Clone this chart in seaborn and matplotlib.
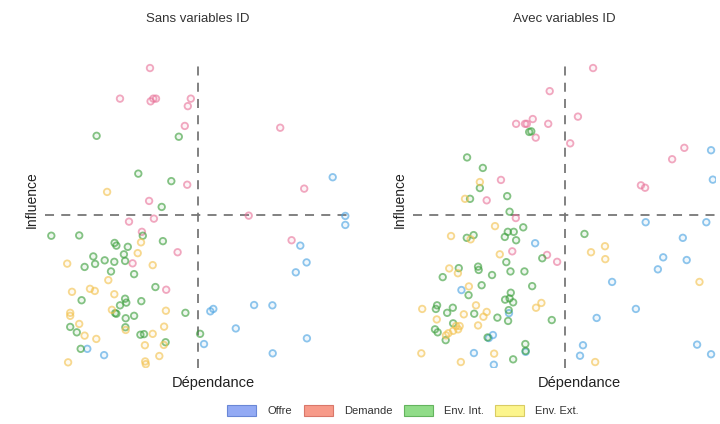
import pandas as pd
import numpy as np
import matplotlib.pyplot as plt
import seaborn as sns
from matplotlib.patches import Patch

# categories and colours
categories = ['Offre', 'Demande', 'Env. Int.', 'Env. Ext.']
point_colors = ['#4aa3e2', '#e9759b', '#3c9f3c', '#f3c24e']
legend_fill = ['#93aaf4', '#f79a89', '#90dc88', '#fcf58c']
legend_edge = ['#6a87d6', '#d9776a', '#64b45e', '#d9cc63']

# ---- Sans variables ID ----
sans_offre_x = [94.9, 99.1, 99.1, 84.1, 86.2, 82.6, 68.7, 74.8, 55.1, 54.1, 62.6, 86.3, 52.0, 13.1, 18.7, 74.9]
sans_offre_y = [62.6, 49.7, 46.7, 39.8, 34.2, 30.9, 20.0, 19.9, 18.7, 17.9, 12.2, 8.9, 7.0, 5.4, 3.3, 3.9]
sans_demande_x = [34.0, 24.0, 34.2, 35.1, 36.0, 47.6, 46.6, 45.6, 77.4, 46.4, 85.4, 33.7, 66.9, 35.3,
                  27.0, 31.3, 81.2, 43.2, 28.2, 39.4]
sans_demande_y = [99.0, 88.8, 87.9, 88.8, 88.8, 88.8, 86.3, 79.7, 79.1, 60.1, 58.8, 54.7, 49.8, 48.8,
                  47.8, 44.4, 41.6, 37.6, 33.9, 25.1]
sans_int_x = [16.2, 43.6, 30.1, 41.1, 37.9, 1.1, 10.4, 31.6, 22.2, 22.8, 26.6, 38.3, 15.1, 25.3, 18.9,
              22.1, 25.7, 15.7, 12.2, 21.0, 28.7, 35.8, 11.2, 25.7, 26.1, 31.1, 24.0, 22.4, 22.8, 25.9,
              28.7, 45.8, 7.4, 25.8, 9.6, 30.8, 32.0, 50.7, 39.2, 10.9]
sans_int_y = [76.4, 76.1, 63.8, 61.3, 52.7, 43.1, 43.2, 43.1, 40.7, 39.8, 39.4, 41.3, 36.2, 36.9, 34.9,
              34.4, 34.7, 33.7, 32.7, 31.2, 30.3, 26.0, 21.6, 22.1, 20.8, 21.3, 19.9, 17.3, 17.1, 15.6,
              16.4, 17.4, 12.7, 12.6, 10.9, 10.1, 10.3, 10.4, 7.6, 5.4]
sans_ext_x = [19.7, 31.0, 29.9, 6.4, 34.9, 20.1, 14.0, 15.6, 8.0, 22.1, 21.3, 39.3, 7.4, 7.4, 10.4,
              38.7, 25.9, 34.9, 12.2, 16.1, 32.3, 38.6, 37.1, 6.7, 32.4, 32.6]
sans_ext_y = [57.7, 40.9, 37.3, 33.8, 33.3, 28.3, 25.4, 24.7, 24.4, 23.6, 18.4, 18.1, 17.4, 16.4, 13.7,
              12.8, 11.7, 10.4, 9.8, 8.7, 6.6, 6.7, 3.0, 0.9, 1.2, 0.3]

# ---- Avec variables ID ----
avec_offre_x = [99.3, 99.9, 77.3, 97.7, 89.8, 40.1, 83.2, 91.1, 81.4, 66.0, 15.3, 74.0, 31.3, 60.8,
                25.9, 24.5, 56.2, 94.6, 19.5, 36.9, 55.2, 99.3, 26.2]
avec_offre_y = [71.6, 61.8, 47.6, 47.6, 42.4, 40.6, 35.9, 35.0, 31.9, 27.7, 25.0, 18.7, 17.3, 15.7,
                10.0, 9.0, 6.6, 6.8, 4.0, 4.4, 3.1, 3.6, 0.1]
avec_demande_x = [59.6, 45.0, 54.5, 33.7, 36.7, 37.3, 39.3, 44.5, 40.3, 51.9, 90.3, 86.2, 75.7, 77.1,
                  28.6, 23.8, 33.6, 32.4, 44.1, 47.5]
avec_demande_y = [99.0, 91.3, 82.8, 80.4, 80.4, 80.4, 82.0, 80.4, 75.8, 73.9, 72.4, 68.6, 59.9, 59.1,
                  61.7, 54.9, 49.0, 37.9, 36.7, 34.4]
avec_int_x = [17.2, 22.5, 21.5, 18.2, 30.7, 38.1, 38.8, 31.5, 36.1, 30.9, 32.9, 19.4, 17.1, 29.9, 33.7,
              56.7, 42.5, 30.4, 14.4, 20.9, 21.1, 31.8, 36.5, 25.6, 9.0, 22.1, 39.1, 17.7, 31.9, 31.5,
              30.0, 32.7, 7.1, 6.7, 12.4, 10.5, 19.6, 31.2, 27.4, 31.0, 45.7, 12.5, 6.4, 7.3, 10.0,
              24.1, 36.8, 36.9, 32.7]
avec_int_y = [69.2, 65.7, 59.0, 55.4, 56.3, 77.7, 77.9, 51.1, 45.9, 44.4, 44.4, 43.3, 42.4, 42.7, 41.6,
              43.7, 35.6, 34.3, 32.3, 32.8, 31.7, 31.2, 31.2, 30.0, 29.3, 26.6, 26.3, 23.3, 24.1, 22.2,
              21.8, 20.9, 19.9, 18.7, 19.1, 17.4, 17.1, 18.3, 15.8, 14.7, 15.0, 13.9, 11.9, 10.9, 8.3,
              9.2, 7.0, 4.7, 1.9]
avec_ext_x = [21.5, 16.5, 26.6, 11.8, 18.4, 28.2, 58.9, 63.6, 63.7, 11.2, 14.1, 95.4, 17.8, 20.2, 23.8,
              22.7, 16.1, 2.1, 7.0, 40.4, 42.2, 20.9, 13.5, 14.7, 14.2, 12.5, 10.9, 10.1, 1.8, 26.3,
              15.1, 60.3]
avec_ext_y = [61.0, 55.4, 46.3, 43.0, 41.9, 36.9, 37.6, 39.6, 35.3, 32.2, 30.6, 27.7, 26.2, 19.9, 17.7,
              16.1, 16.9, 18.7, 15.2, 19.1, 20.7, 13.2, 13.0, 13.0, 11.9, 11.4, 10.6, 9.9, 3.9, 3.8,
              1.0, 1.0]

titles = ['Sans variables ID', 'Avec variables ID']


def build_frame(groups):
    # one long table per panel: x, y and the category
    rows = []
    for cat, (xs, ys) in zip(categories, groups):
        rows.append(pd.DataFrame({'Dépendance': xs, 'Influence': ys, 'Type': cat}))
    return pd.concat(rows, ignore_index=True)


df_sans = build_frame([(sans_offre_x, sans_offre_y), (sans_demande_x, sans_demande_y),
                       (sans_int_x, sans_int_y), (sans_ext_x, sans_ext_y)])
df_avec = build_frame([(avec_offre_x, avec_offre_y), (avec_demande_x, avec_demande_y),
                       (avec_int_x, avec_int_y), (avec_ext_x, avec_ext_y)])

sns.set_style('white')
plt.rcParams['font.family'] = ['Liberation Sans', 'DejaVu Sans']

fig = plt.figure(figsize=(7.2, 4.24), dpi=100)
ax_left = fig.add_axes([0.0625, 0.132, 0.425, 0.7217])
ax_right = fig.add_axes([0.5736, 0.132, 0.421, 0.7217])

palette = dict(zip(categories, point_colors))

for ax, data, title in zip([ax_left, ax_right], [df_sans, df_avec], titles):
    sns.scatterplot(data=data, x='Dépendance', y='Influence', hue='Type', hue_order=categories,
                    palette=palette, s=22, linewidth=1.3, legend=False, ax=ax)
    # hollow markers: move the colour to the edge
    coll = ax.collections[0]
    fc = coll.get_facecolors().copy()
    edge = fc.copy()
    edge[:, 3] = 0.62
    fill = fc.copy()
    fill[:, 3] = 0.08
    coll.set_edgecolors(edge)
    coll.set_facecolors(fill)

    ax.axvline(50, color='#777777', linestyle=(0, (5, 4)), linewidth=1.3, zorder=0)
    ax.axhline(50, color='#777777', linestyle=(0, (5, 4)), linewidth=1.3, zorder=0)
    ax.set_xlim(-1, 101)
    ax.set_ylim(-1, 101)
    ax.set_xticks([])
    ax.set_yticks([])
    sns.despine(ax=ax, left=True, bottom=True)
    ax.set_title(title, fontsize=9.5, color='#333333', pad=29)
    ax.set_xlabel('Dépendance', fontsize=10.5, color='#222222')
    ax.set_ylabel('Influence', fontsize=10, color='#222222')
    ax.xaxis.set_label_coords(0.55, -0.027)
    ax.yaxis.set_label_coords(-0.02, 0.55)

handles = [Patch(facecolor=f, edgecolor=e, linewidth=0.8, label=c)
           for c, f, e in zip(categories, legend_fill, legend_edge)]
fig.legend(handles=handles, loc='center', bbox_to_anchor=(0.56, 0.031), ncol=4, frameon=False,
           fontsize=8, handlelength=2.6, handleheight=1.15, handletextpad=1.0, columnspacing=1.05,
           labelcolor='#333333')

plt.savefig('out.png', dpi=100)
